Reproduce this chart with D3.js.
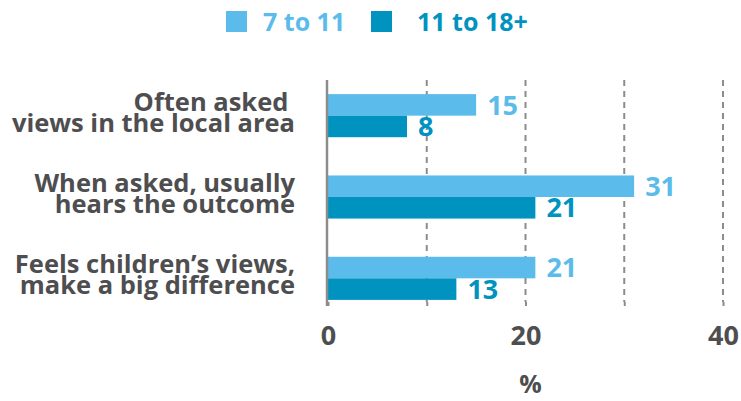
<!DOCTYPE html>
<html>
<head>
<meta charset="utf-8">
<script src="https://cdn.jsdelivr.net/npm/d3@7"></script>
<style>
  html, body { margin: 0; padding: 0; background: #ffffff; }
  svg { display: block; }
  text { font-family: "Open Sans", "DejaVu Sans", sans-serif; font-weight: 700; }
</style>
</head>
<body>
<svg id="chart" width="741" height="401"></svg>
<script>
// Survey answers, percentage of children in each age group
const categories = [
  ["Often asked ", "views in the local area"],
  ["When asked, usually", "hears the outcome"],
  ["Feels children\u2019s views,", "make a big difference"]
];
const seriesNames = ["7 to 11", "11 to 18+"];
const values7to11 = [15, 31, 21];
const values11to18 = [8, 21, 13];
const xTicks = [0, 10, 20, 30, 40];
const xTickLabels = ["0", "", "20", "", "40"];
const axisTitle = "%";

const colors = ["#5bbcec", "#0093c0"];
const textGrey = "#4e4e50";
const gridGrey = "#8c8c8c";

const svg = d3.select("#chart");

const x = d3.scaleLinear().domain([0, 40]).range([328, 723]);
const y = d3.scaleBand()
  .domain(d3.range(categories.length))
  .range([75, 319])
  .paddingInner(0.47)
  .paddingOuter(0.235);
const sub = d3.scaleBand().domain([0, 1]).range([0, y.bandwidth()]);

const series = [values7to11, values11to18];

// dashed gridlines
svg.append("g").selectAll("line")
  .data(xTicks.filter(t => t > 0))
  .join("line")
  .attr("x1", d => x(d)).attr("x2", d => x(d))
  .attr("y1", 80).attr("y2", 302)
  .attr("stroke", gridGrey)
  .attr("stroke-width", 2)
  .attr("stroke-dasharray", "6,5");

// bottom axis: small ticks and labels
const xAxis = d3.axisBottom(x)
  .tickValues(xTicks)
  .tickSize(4)
  .tickPadding(20)
  .tickFormat((d, i) => xTickLabels[i]);
const gx = svg.append("g").attr("transform", "translate(0,302)").call(xAxis);
gx.select(".domain").remove();
gx.selectAll(".tick line").attr("stroke", gridGrey).attr("stroke-width", 2);
gx.selectAll(".tick text")
  .attr("fill", textGrey)
  .style("font-size", "27px")
  .style("font-family", "'Open Sans', sans-serif")
  .style("font-weight", 700);

// bars and their value labels
series.forEach((vals, s) => {
  svg.append("g").selectAll("rect")
    .data(vals)
    .join("rect")
    .attr("x", x(0))
    .attr("y", (d, i) => y(i) + sub(s))
    .attr("width", d => x(d) - x(0))
    .attr("height", sub.bandwidth())
    .attr("fill", colors[s]);

  svg.append("g").selectAll("text")
    .data(vals)
    .join("text")
    .attr("x", d => x(d) + 11)
    .attr("y", (d, i) => y(i) + sub(s) + sub.bandwidth() / 2)
    .attr("dy", "0.36em")
    .attr("fill", colors[s])
    .style("font-size", "27px")
    .text(d => d);
});

// vertical zero line
svg.append("line")
  .attr("x1", x(0) - 1).attr("x2", x(0) - 1)
  .attr("y1", 80).attr("y2", 306)
  .attr("stroke", gridGrey)
  .attr("stroke-width", 2.5);

// category labels, two lines each
const labels = svg.append("g").selectAll("text")
  .data(categories)
  .join("text")
  .attr("text-anchor", "end")
  .attr("fill", textGrey)
  .style("font-size", "25.5px")
  .attr("y", (d, i) => y(i) + y.bandwidth() / 2);
labels.selectAll("tspan")
  .data(d => d)
  .join("tspan")
  .attr("x", 295)
  .attr("dy", (d, j) => j === 0 ? -5 : 21)
  .text(d => d);

// axis title
svg.append("text")
  .attr("x", x(20) + 5)
  .attr("y", 393)
  .attr("text-anchor", "middle")
  .attr("fill", textGrey)
  .style("font-size", "25px")
  .text(axisTitle);

// legend
const legendX = [226, 371];
const legend = svg.append("g").selectAll("g")
  .data(seriesNames)
  .join("g")
  .attr("transform", (d, i) => `translate(${legendX[i]},11)`);
legend.append("rect")
  .attr("width", 21).attr("height", 21)
  .attr("fill", (d, i) => colors[i]);
legend.append("text")
  .attr("x", (d, i) => i === 0 ? 37 : 46)
  .attr("y", 20)
  .attr("fill", (d, i) => colors[i])
  .style("font-size", "25px")
  .text(d => d);
</script>
</body>
</html>
